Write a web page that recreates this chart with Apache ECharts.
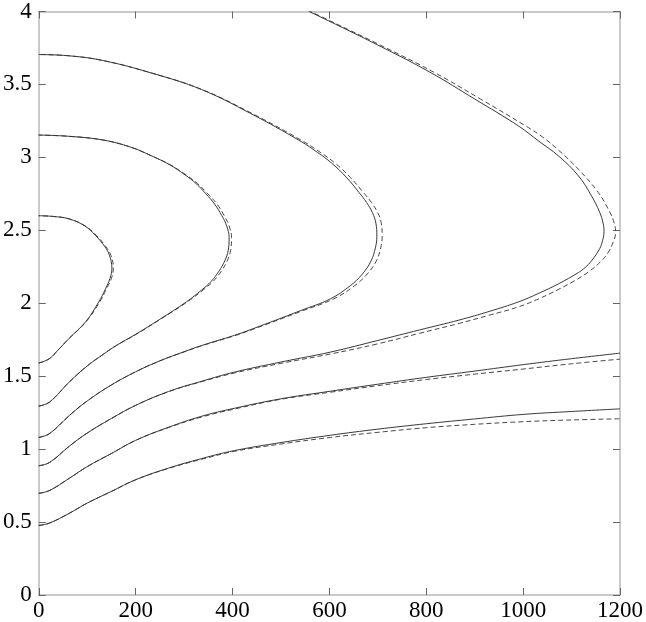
<!DOCTYPE html>
<html>
<head>
<meta charset="utf-8">
<script src="https://cdn.jsdelivr.net/npm/echarts@6/dist/echarts.min.js"></script>
<style>
html,body{margin:0;padding:0;background:#fff;}
#c{width:646px;height:622px;}
</style>
</head>
<body>
<div id="c"></div>
<script>
// Contour curves as [x, y] points (solid = S, dashed = D)
var curveA_S = [[0,0.477],[22,0.493],[63,0.56],[100,0.63],[150,0.71],[200,0.79],[268,0.87],[336,0.935],[404,0.99],[500,1.045],[602,1.095],[700,1.137],[800,1.174],[900,1.207],[1000,1.238],[1100,1.258],[1200,1.276]];
var curveA_D = [[0,0.477],[22,0.493],[63,0.56],[100,0.63],[150,0.71],[200,0.79],[268,0.868],[336,0.93],[404,0.985],[500,1.035],[602,1.08],[700,1.115],[800,1.147],[900,1.17],[1000,1.188],[1100,1.2],[1200,1.208]];

var curveB_S = [[0,0.697],[22,0.716],[63,0.8],[100,0.88],[150,0.97],[200,1.06],[268,1.15],[336,1.225],[404,1.28],[500,1.345],[602,1.397],[700,1.445],[800,1.492],[900,1.535],[1000,1.579],[1100,1.62],[1200,1.658]];
var curveB_D = [[0,0.697],[22,0.716],[63,0.8],[100,0.88],[150,0.97],[200,1.06],[268,1.148],[336,1.22],[404,1.275],[500,1.342],[602,1.39],[700,1.435],[800,1.477],[900,1.514],[1000,1.549],[1100,1.585],[1200,1.617]];

var loopBig_S = [[0,0.886],[22,0.908],[63,1.02],[100,1.11],[150,1.21],[200,1.3],[268,1.395],[336,1.465],[404,1.528],[500,1.597],[602,1.665],[700,1.745],[786,1.817],[868,1.885],[930,1.944],[991,2.01],[1032,2.068],[1073,2.133],[1114,2.21],[1128,2.245],[1141,2.29],[1158,2.374],[1164,2.43],[1167,2.49],[1165,2.55],[1158,2.624],[1141,2.737],[1114,2.874],[1073,3.01],[1032,3.112],[991,3.214],[900,3.4],[807,3.585],[700,3.77],[599,3.935],[558,4.0]];
var loopBig_D = [[0,0.886],[22,0.908],[63,1.02],[100,1.11],[150,1.21],[200,1.3],[268,1.394],[336,1.462],[404,1.522],[500,1.588],[602,1.652],[700,1.722],[786,1.794],[868,1.862],[930,1.918],[991,1.976],[1032,2.03],[1070,2.09],[1105,2.152],[1135,2.215],[1160,2.285],[1176,2.35],[1186,2.42],[1191,2.487],[1188,2.55],[1179,2.624],[1155,2.76],[1114,2.919],[1073,3.05],[1040,3.14],[1006,3.214],[912,3.4],[815,3.585],[705,3.77],[602,3.935],[561,4.0]];

var loop3_S = [[0,1.08],[22,1.106],[63,1.23],[100,1.33],[150,1.44],[200,1.53],[250,1.605],[302,1.67],[336,1.71],[404,1.78],[438,1.82],[541,1.95],[602,2.03],[643,2.12],[668,2.2],[686,2.29],[695,2.38],[698,2.46],[696,2.55],[689,2.62],[677,2.69],[661,2.76],[636,2.86],[605,2.96],[575,3.035],[541,3.11],[438,3.3],[336,3.465],[233,3.578],[131,3.665],[60,3.697],[0,3.705]];
var loop3_D = [[0,1.08],[22,1.106],[63,1.23],[100,1.33],[150,1.44],[200,1.53],[250,1.605],[303,1.67],[338,1.71],[407,1.78],[441,1.82],[546,1.95],[609,2.03],[652,2.12],[678,2.2],[697,2.29],[706,2.38],[709,2.46],[707,2.55],[700,2.62],[687,2.69],[670,2.76],[644,2.86],[612,2.96],[581,3.035],[546,3.11],[441,3.3],[337,3.465],[233,3.578],[131,3.665],[60,3.697],[0,3.705]];

var loop2_S = [[0,1.295],[22,1.322],[63,1.46],[100,1.57],[131,1.645],[160,1.71],[199,1.785],[250,1.89],[305,2.01],[336,2.09],[356,2.15],[372,2.22],[384,2.29],[391,2.36],[393,2.45],[388,2.53],[378,2.6],[363,2.68],[345,2.75],[325,2.82],[302,2.88],[270,2.95],[233,3.01],[190,3.07],[131,3.12],[60,3.145],[0,3.153]];
var loop2_D = [[0,1.295],[22,1.322],[63,1.46],[100,1.57],[131,1.645],[160,1.71],[200,1.785],[251,1.89],[307,2.01],[339,2.09],[360,2.15],[377,2.22],[389,2.29],[396,2.36],[398,2.45],[393,2.53],[383,2.6],[368,2.68],[349,2.75],[328,2.82],[304,2.88],[271,2.95],[233,3.01],[190,3.07],[131,3.12],[60,3.145],[0,3.153]];

var loop1_S = [[0,1.59],[22,1.62],[40,1.68],[63,1.76],[97,1.874],[124,2.01],[138,2.1],[147,2.17],[151,2.24],[146,2.328],[136,2.39],[117,2.465],[95,2.53],[63,2.578],[30,2.595],[0,2.6]];
var loop1_D = [[0,1.59],[22,1.62],[40,1.68],[63,1.76],[98,1.874],[126,2.01],[140,2.1],[150,2.17],[154,2.24],[149,2.328],[138,2.39],[119,2.465],[96,2.53],[63,2.578],[30,2.595],[0,2.6]];

var xTicks = [0,200,400,600,800,1000,1200];
var yTicks = [0,0.5,1,1.5,2,2.5,3,3.5,4];

var chart = echarts.init(document.getElementById('c'), null, {renderer:'canvas'});
var font = "'Liberation Serif', 'Times New Roman', Times, serif";
var frame = '#b8b8b8';
function xAx(pos, showLabel){
  return {type:'value', position:pos, min:xTicks[0], max:xTicks[xTicks.length-1], interval:200,
    axisLine:{show:true, onZero:false, lineStyle:{color:frame, width:1.5}},
    axisTick:{show:true, inside:true, length:7, lineStyle:{color:'#666', width:1}},
    axisLabel:{show:showLabel, color:'#000', fontFamily:font, fontSize:23, margin:4,
      formatter:function(v){return String(v);}},
    splitLine:{show:false}};
}
function yAx(pos, showLabel){
  return {type:'value', position:pos, min:yTicks[0], max:yTicks[yTicks.length-1], interval:0.5,
    axisLine:{show:true, onZero:false, lineStyle:{color:frame, width:1.5}},
    axisTick:{show:true, inside:true, length:7, lineStyle:{color:'#666', width:1}},
    axisLabel:{show:showLabel, color:'#000', fontFamily:font, fontSize:23, margin:7,
      formatter:function(v){return String(v);}},
    splitLine:{show:false}};
}
var solid = {color:'#222', width:0.9, type:'solid'};
var dashed = {color:'#333', width:0.9, type:[5,3]};
var curves = [
  [curveA_S, solid],[curveA_D, dashed],
  [curveB_S, solid],[curveB_D, dashed],
  [loopBig_S, solid],[loopBig_D, dashed],
  [loop3_S, solid],[loop3_D, dashed],
  [loop2_S, solid],[loop2_D, dashed],
  [loop1_S, solid],[loop1_D, dashed]
];
var series = curves.map(function(c){
  return {type:'line', data:c[0], showSymbol:false, symbol:'none', smooth:0.4,
    lineStyle:c[1], clip:true, silent:true, animation:false};
});
chart.setOption({
  animation:false,
  backgroundColor:'#fff',
  grid:{left:36, right:24, top:8, bottom:27, containLabel:false},
  xAxis:[xAx('bottom', true), xAx('top', false)],
  yAxis:[yAx('left', true), yAx('right', false)],
  series:series
});
</script>
</body>
</html>
